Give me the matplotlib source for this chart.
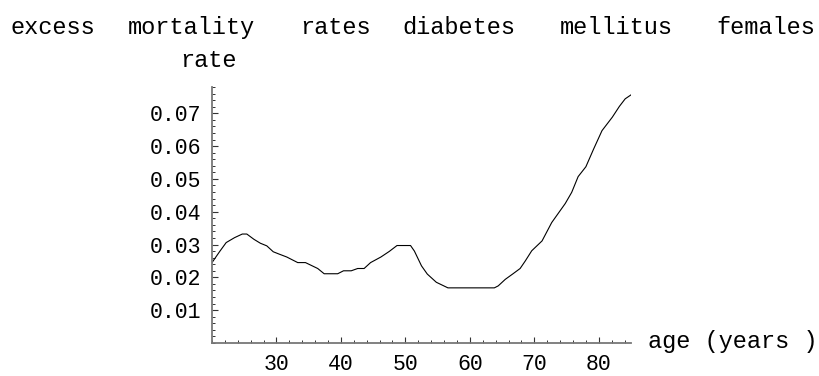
import numpy as np
import matplotlib
matplotlib.use("Agg")
import matplotlib.pyplot as plt
from matplotlib.ticker import MultipleLocator, FormatStrFormatter

# excess mortality rate by age, diabetes mellitus, females
age = [20.0, 21.2, 22.2, 23.5, 24.7, 25.4, 26.5, 27.5, 28.5, 29.5, 30.4, 31.6,
       33.3, 34.5, 36.4, 37.4, 39.5, 40.4, 41.6, 42.6, 43.6, 44.6, 46.2, 47.5,
       48.7, 50.8, 51.4, 52.5, 53.4, 54.8, 56.6, 63.8, 64.4, 65.5, 66.7, 67.8,
       68.6, 69.6, 71.2, 72.7, 74.8, 75.8, 76.8, 78.0, 79.2, 80.5, 82.1, 83.2,
       84.1, 85.0]
rate = [0.0245, 0.0279, 0.0306, 0.0321, 0.0332, 0.0332, 0.0316, 0.0304, 0.0296,
        0.0278, 0.0271, 0.0262, 0.0245, 0.0245, 0.0227, 0.0211, 0.0211, 0.0220,
        0.0220, 0.0227, 0.0227, 0.0245, 0.0262, 0.0279, 0.0297, 0.0297, 0.0280,
        0.0235, 0.0210, 0.0185, 0.0168, 0.0168, 0.0174, 0.0194, 0.0211, 0.0227,
        0.0250, 0.0281, 0.0311, 0.0367, 0.0425, 0.0459, 0.0507, 0.0537, 0.0591,
        0.0647, 0.0688, 0.0721, 0.0744, 0.0756]

title_words = ["excess", "mortality", "rates", "diabetes", "mellitus", "females"]
title_x = [11, 128, 300, 402, 560, 716]

W, H = 819, 376
plt.rcParams["font.family"] = ["Liberation Mono", "DejaVu Sans Mono"]

fig = plt.figure(figsize=(W / 100, H / 100), dpi=100)
ax = fig.add_axes([212 / W, 1 - 343 / H, (631 - 212) / W, (343 - 87) / H])

ax.plot(age, rate, color="black", lw=0.8)
ax.set_xlim(20, 85)
ax.set_ylim(0, 0.078)

for s in ["top", "right"]:
    ax.spines[s].set_visible(False)
for s in ["left", "bottom"]:
    ax.spines[s].set_color("#777777")
    ax.spines[s].set_linewidth(1.3)

ax.xaxis.set_minor_locator(MultipleLocator(2))
ax.yaxis.set_minor_locator(MultipleLocator(0.002))
ax.yaxis.set_major_formatter(FormatStrFormatter("%.2f"))
ax.set_xticks([30, 40, 50, 60, 70, 80])
ax.set_yticks([0.01, 0.02, 0.03, 0.04, 0.05, 0.06, 0.07])
ax.tick_params(which="major", direction="in", length=4, width=0.8,
               color="#333333", labelsize=15.5, pad=8)
ax.tick_params(which="minor", direction="in", length=2.5, width=0.7,
               color="#333333")

for word, x in zip(title_words, title_x):
    fig.text(x / W, 1 - 34 / H, word, fontsize=17, ha="left", va="baseline")
fig.text(180 / W, 1 - 67 / H, "rate", fontsize=17, ha="left", va="baseline")
fig.text(648 / W, 1 - 348 / H, "age (years )", fontsize=17, ha="left",
         va="baseline")

fig.savefig("out.png", dpi=100)
